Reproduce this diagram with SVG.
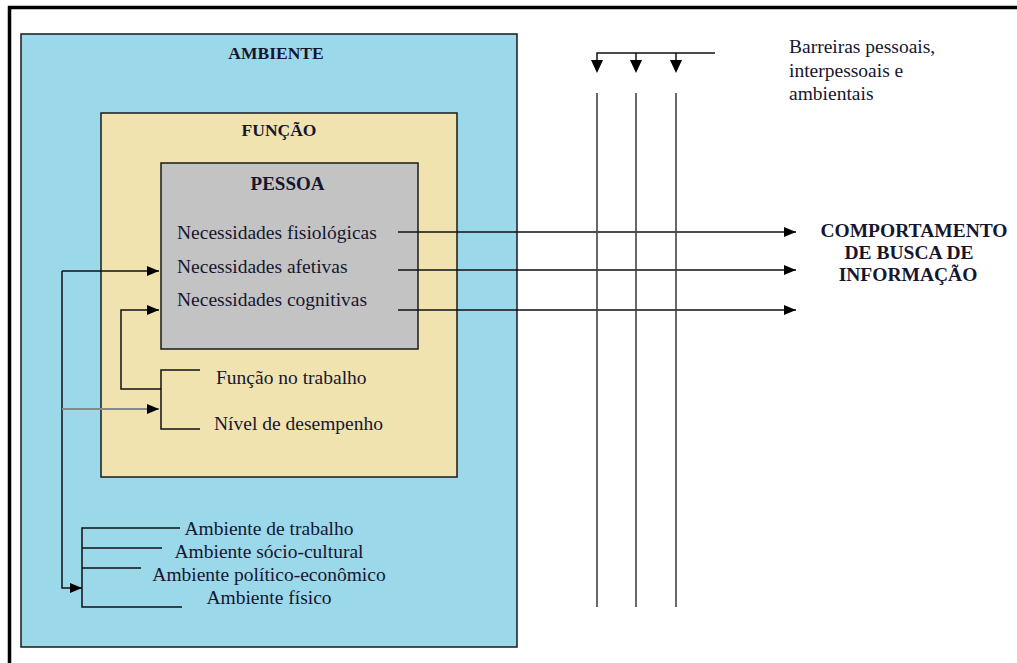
<svg xmlns="http://www.w3.org/2000/svg" width="1017" height="663" viewBox="0 0 1017 663">
<style>
.box{stroke:#1a1a1a;stroke-width:1.5}
.t{font-family:"Liberation Serif","Times New Roman",serif;font-size:19.5px;fill:#161630}
.b{font-family:"Liberation Serif","Times New Roman",serif;font-weight:bold;fill:#161630}
.ln{fill:none;stroke:#111;stroke-width:1.5}
.bar{fill:none;stroke:#444;stroke-width:1.6}
</style>
<defs>
<marker id="ah" viewBox="0 0 12 10" refX="12" refY="5" markerWidth="12" markerHeight="10" orient="auto" markerUnits="userSpaceOnUse">
<path d="M0,0 L12,5 L0,10 z" fill="#000"/>
</marker>
<marker id="ahd" viewBox="0 0 12 13" refX="6" refY="13" markerWidth="12" markerHeight="13" orient="0" markerUnits="userSpaceOnUse">
<path d="M0,0 L12,0 L6,13 z" fill="#000"/>
</marker>
</defs>
<rect width="1017" height="663" fill="#fff"/>
<g id="frame">
<path d="M9.5,663 V7.5 H1017" fill="none" stroke="#000" stroke-width="3.5"/>
</g>
<g id="ambiente">
<rect class="box" x="21" y="34" width="496" height="613" fill="#9bd8e9"/>
<text class="b" x="276" y="59" font-size="17.5" text-anchor="middle">AMBIENTE</text>
</g>
<g id="funcao">
<rect class="box" x="101" y="113" width="356" height="364" fill="#f0e3b0"/>
<text class="b" x="279" y="136" font-size="17.5" text-anchor="middle">FUNÇÃO</text>
</g>
<g id="pessoa">
<rect class="box" x="161" y="163" width="257" height="186" fill="#c3c3c3"/>
<text class="b" x="287.5" y="190" font-size="19" text-anchor="middle">PESSOA</text>
<text class="t" x="177" y="239">Necessidades fisiológicas</text>
<text class="t" x="177" y="273">Necessidades afetivas</text>
<text class="t" x="177" y="306">Necessidades cognitivas</text>
</g>
<g id="funcao-itens">
<text class="t" x="216" y="384">Função no trabalho</text>
<text class="t" x="214" y="430">Nível de desempenho</text>
</g>
<g id="ambiente-itens">
<text class="t" x="269" y="535" text-anchor="middle">Ambiente de trabalho</text>
<text class="t" x="269" y="558" text-anchor="middle">Ambiente sócio-cultural</text>
<text class="t" x="269" y="581" text-anchor="middle">Ambiente político-econômico</text>
<text class="t" x="269" y="604" text-anchor="middle">Ambiente físico</text>
</g>
<g id="barreiras">
<text class="t" x="789" y="53">Barreiras pessoais,</text>
<text class="t" x="789" y="77">interpessoais e</text>
<text class="t" x="789" y="100">ambientais</text>
</g>
<g id="comportamento">
<text class="b" font-size="19.5" text-anchor="middle"><tspan x="914" y="237">COMPORTAMENTO</tspan><tspan x="909" y="259">DE BUSCA DE</tspan><tspan x="908" y="281">INFORMAÇÃO</tspan></text>
</g>
<g id="connectors">
<!-- ambiente bracket -->
<path class="ln" d="M180,528 H82 V607 H182 M82,548 H162 M82,568 H141"/>
<path class="ln" d="M62,271 V588 H82" marker-end="url(#ah)"/>
<path class="ln" d="M62,271 H159" marker-end="url(#ah)"/>
<path d="M62,409 H159" fill="none" stroke="#888" stroke-width="1.8" marker-end="url(#ah)"/>
<!-- funcao bracket -->
<path class="ln" d="M200,370 H161 V429 H200"/>
<path class="ln" d="M161,389 H121 V310 H159" marker-end="url(#ah)"/>
<!-- outputs -->
<path class="ln" d="M398,232 H796" marker-end="url(#ah)"/>
<path class="ln" d="M398,270 H796" marker-end="url(#ah)"/>
<path class="ln" d="M398,310 H796" marker-end="url(#ah)"/>
<!-- barriers -->
<path class="ln" d="M597,60 V53 H715 M636,53 V60 M676,53 V60"/>
<path d="M591,60 H603 L597,73 z M630,60 H642 L636,73 z M670,60 H682 L676,73 z" fill="#000"/>
<path class="bar" d="M597,93 V607 M636,93 V607 M676,93 V607"/>
</g>
</svg>
